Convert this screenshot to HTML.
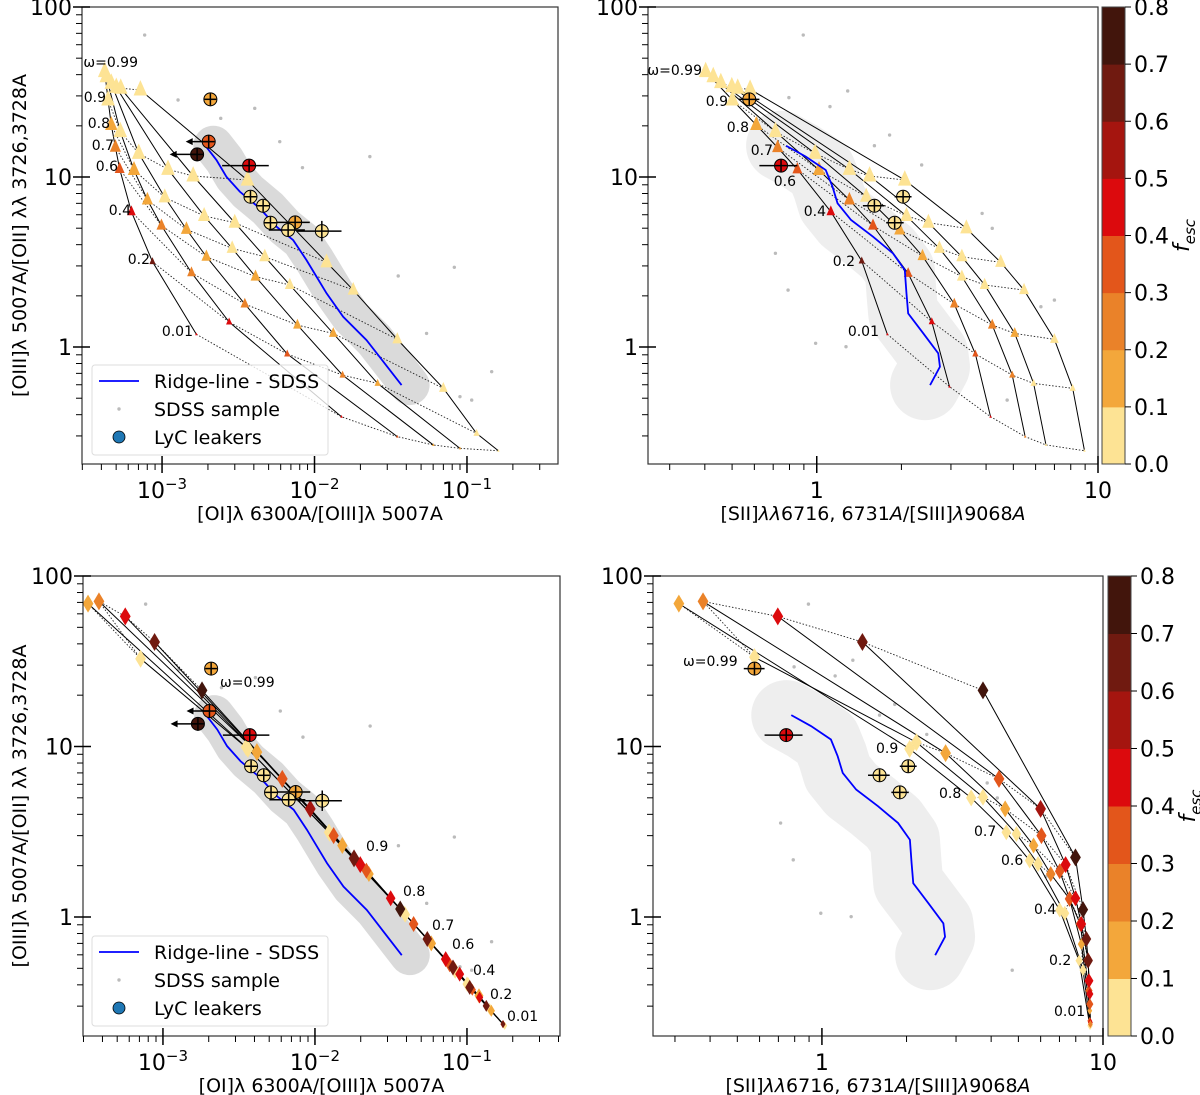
<!DOCTYPE html>
<html><head><meta charset="utf-8"><style>
html,body{margin:0;padding:0;background:#fff;}
svg{display:block;font-family:"DejaVu Sans","Liberation Sans",sans-serif;}
</style></head><body>
<svg id="fig" width="1200" height="1095" viewBox="0 0 1200 1095" xmlns="http://www.w3.org/2000/svg"></svg>
<script>
// ---------- DATA (log10 values) ----------
const omegaLabels = ['ω=0.99','0.9','0.8','0.7','0.6','0.4','0.2','0.01'];
const tlLogX = [
 [-3.376,-3.354,-3.333,-3.306,-3.278,-3.201,-3.063,-2.775],
 [-3.365,-3.274,-3.184,-3.096,-3.004,-2.807,-2.560,-1.823],
 [-3.333,-3.153,-2.982,-2.840,-2.709,-2.457,-2.179,-1.457],
 [-3.300,-2.961,-2.724,-2.540,-2.387,-2.112,-1.816,-1.221],
 [-3.271,-2.796,-2.523,-2.326,-2.162,-1.877,-1.586,-1.046],
 [-3.142,-2.440,-1.921,-1.746,-1.457,-1.155,-0.937,-0.794]];
const tlLogY = [
 [1.620,1.453,1.306,1.175,1.047,0.796,0.502,0.075],
 [1.590,1.267,1.041,0.865,0.714,0.437,0.147,-0.410],
 [1.551,1.139,0.880,0.692,0.531,0.253,-0.041,-0.527],
 [1.527,1.045,0.771,0.580,0.414,0.129,-0.165,-0.576],
 [1.522,1.006,0.731,0.531,0.365,0.080,-0.214,-0.596],
 [1.512,0.982,0.498,0.335,0.045,-0.243,-0.508,-0.610]];
const tlFesc = [
 [0.05,0.05,0.15,0.25,0.35,0.45,0.65,0.45],
 [0.05,0.05,0.15,0.15,0.25,0.25,0.45,0.45],
 [0.05,0.05,0.05,0.15,0.15,0.25,0.35,0.35],
 [0.05,0.05,0.05,0.05,0.15,0.15,0.25,0.15],
 [0.05,0.05,0.05,0.05,0.05,0.15,0.15,0.15],
 [0.05,0.05,0.05,0.05,0.05,0.05,0.05,0.05]];
const trLogX = [
 [-0.395,-0.300,-0.215,-0.139,-0.069,0.050,0.160,0.251],
 [-0.368,-0.147,0.008,0.116,0.200,0.325,0.409,0.472],
 [-0.341,-0.006,0.176,0.295,0.376,0.489,0.564,0.618],
 [-0.302,0.116,0.319,0.436,0.516,0.624,0.695,0.741],
 [-0.281,0.188,0.397,0.516,0.597,0.704,0.771,0.815],
 [-0.237,0.313,0.532,0.654,0.737,0.845,0.910,0.952]];
const trLogY = [
 [1.620,1.453,1.306,1.173,1.045,0.796,0.506,0.075],
 [1.590,1.267,1.041,0.865,0.714,0.433,0.149,-0.233],
 [1.555,1.139,0.884,0.688,0.535,0.253,-0.041,-0.410],
 [1.531,1.045,0.771,0.580,0.414,0.129,-0.165,-0.527],
 [1.522,1.006,0.731,0.531,0.365,0.080,-0.214,-0.576],
 [1.516,0.982,0.698,0.498,0.335,0.045,-0.243,-0.610]];
const trFesc = [
 [0.05,0.05,0.15,0.25,0.35,0.45,0.65,0.45],
 [0.05,0.05,0.15,0.25,0.35,0.35,0.45,0.45],
 [0.05,0.05,0.05,0.15,0.15,0.25,0.35,0.45],
 [0.05,0.05,0.05,0.05,0.05,0.25,0.25,0.25],
 [0.05,0.05,0.05,0.05,0.05,0.15,0.05,0.05],
 [0.05,0.05,0.05,0.05,0.05,0.05,0.05,0.05]];
const blLogX = [
 [-3.493,-2.452,-1.908,-1.410,-1.081,-1.000,-0.851,-0.752],
 [-3.147,-2.441,-1.904,-1.406,-1.077,-0.993,-0.840,-0.752],
 [-3.421,-2.382,-1.820,-1.645,-1.235,-0.921,-0.840,-0.763],
 [-3.248,-2.215,-1.877,-1.662,-1.351,-1.114,-0.965,-0.763],
 [-3.055,-2.031,-1.702,-1.502,-1.140,-1.048,-0.917,-0.763],
 [-2.743,-1.743,-1.439,-1.261,-1.092,-0.982,-0.873,-0.763]];
const blLogY = [
 [1.838,0.996,0.497,0.018,-0.311,-0.393,-0.540,-0.638],
 [1.515,0.986,0.491,0.014,-0.315,-0.397,-0.550,-0.638],
 [1.851,0.967,0.419,0.252,-0.155,-0.462,-0.550,-0.628],
 [1.763,0.810,0.477,0.272,-0.041,-0.280,-0.427,-0.628],
 [1.613,0.634,0.307,0.110,-0.247,-0.335,-0.472,-0.628],
 [1.329,0.344,0.047,-0.129,-0.296,-0.413,-0.521,-0.628]];
const blFesc = [
 [0.15,0.05,0.05,0.05,0.05,0.05,0.05,0.05],
 [0.05,0.05,0.05,0.05,0.05,0.05,0.05,0.05],
 [0.25,0.15,0.15,0.15,0.15,0.15,0.15,0.15],
 [0.45,0.35,0.35,0.35,0.35,0.35,0.35,0.35],
 [0.65,0.55,0.45,0.45,0.45,0.45,0.45,0.45],
 [0.75,0.65,0.75,0.65,0.65,0.65,0.65,0.65]];
const brLogX = [
 [-0.509,0.312,0.531,0.656,0.739,0.846,0.915,0.953],
 [-0.240,0.336,0.573,0.692,0.769,0.864,0.929,0.955],
 [-0.423,0.440,0.652,0.753,0.814,0.881,0.923,0.953],
 [-0.157,0.630,0.781,0.846,0.881,0.919,0.950,0.953],
 [0.144,0.778,0.867,0.902,0.923,0.947,0.953,0.955],
 [0.573,0.902,0.929,0.941,0.947,0.950,0.953,0.955]];
const brLogY = [
 [1.838,0.986,0.699,0.497,0.331,0.041,-0.256,-0.638],
 [1.524,1.025,0.703,0.487,0.311,0.022,-0.311,-0.638],
 [1.851,0.961,0.634,0.419,0.252,0.106,-0.159,-0.550],
 [1.763,0.810,0.477,0.268,0.106,-0.041,-0.432,-0.609],
 [1.613,0.634,0.307,0.110,-0.041,-0.252,-0.452,-0.618],
 [1.329,0.350,0.043,-0.129,-0.256,-0.374,-0.511,-0.628]];
const brFesc = [
 [0.15,0.05,0.05,0.05,0.05,0.05,0.05,0.05],
 [0.05,0.05,0.05,0.05,0.05,0.05,0.05,0.05],
 [0.25,0.15,0.15,0.15,0.25,0.25,0.15,0.15],
 [0.45,0.35,0.35,0.35,0.35,0.35,0.35,0.35],
 [0.65,0.55,0.45,0.45,0.45,0.45,0.45,0.45],
 [0.75,0.75,0.75,0.65,0.65,0.45,0.35,0.25]];
const ridgeLeftX = [-2.716,-2.643,-2.578,-2.490,-2.359,-2.249,-2.140,-2.053,-1.987,-1.921,-1.812,-1.659,-1.429];
const ridgeLeftY = [1.184,1.100,1.002,0.914,0.816,0.708,0.629,0.512,0.414,0.316,0.178,0.041,-0.224];
const ridgeRightX = [-0.109,-0.039,0.032,0.056,0.074,0.122,0.200,0.271,0.313,0.319,0.325,0.379,0.432,0.438,0.403];
const ridgeRightY = [1.184,1.120,1.041,0.943,0.845,0.747,0.649,0.551,0.453,0.316,0.198,0.080,-0.037,-0.116,-0.224];
const sdssLeftX = [-3.114,-2.392,-2.615,-2.228,-1.637,-2.079,-1.083,-0.838,-0.969,-1.451,-2.895,-1.265,-1.046];
const sdssLeftY = [1.835,1.404,1.345,1.208,1.120,1.055,0.469,-0.145,-0.312,0.418,1.453,0.080,-0.292];
const sdssRightX = [-0.048,0.110,0.047,-0.099,0.205,0.259,0.373,0.588,0.624,0.845,0.797,-0.004,0.104,-0.147,-0.102,0.677];
const sdssRightY = [1.835,1.506,1.414,1.467,1.184,1.247,1.071,0.786,0.698,0.276,0.237,0.022,0.002,0.551,0.335,-0.312];
const leakLogY = [1.457,1.208,1.133,1.067,0.884,0.831,0.731,0.733,0.688,0.682];
const leakFesc = [0.15,0.32,0.75,0.45,0.05,0.05,0.05,0.15,0.05,0.08];
const leakOILogX = [-2.683,-2.694,-2.770,-2.429,-2.420,-2.337,-2.289,-2.127,-2.173,-1.952];
const leakOIErrLo = [-2.70,null,null,-2.606,-2.44,-2.357,-2.309,-2.249,-2.300,-2.114];
const leakOIErrHi = [-2.665,null,null,-2.300,-2.40,-2.317,-2.269,-2.031,-2.063,-1.823];
const leakOILimit = [null,-2.845,-2.950,null,null,null,null,null,null,null];
const leakYErr = [0.03,0.04,0.04,0.03,0.03,0.03,0.03,0.03,0.03,0.06];
const leakSIdx = [0,3,4,5,6];
const leakSLogX = [-0.240,-0.127,0.307,0.205,0.277];
const leakSErrLo = [-0.278,-0.204,0.277,0.164,0.247];
const leakSErrHi = [-0.204,-0.069,0.337,0.241,0.309];
const cbarTicks = [0,0.1,0.2,0.3,0.4,0.5,0.6,0.7,0.8];
const cbarColors = ['#fde394','#f3a73b','#ea8229','#e3561b','#dc0a0d','#a5150f','#701a10','#42150c'];

// ---------- DRAWING ----------
const NS='http://www.w3.org/2000/svg';
const svg=document.getElementById('fig');
function el(tag,attrs,parent){const e=document.createElementNS(NS,tag);for(const k in attrs)e.setAttribute(k,attrs[k]);(parent||svg).appendChild(e);return e;}
function col(f){let i=Math.floor(f*10);if(i<0)i=0;if(i>7)i=7;return cbarColors[i];}

function makePanel(p){
  const g=el('g',{});
  
  
  p.sx=v=>p.x0+(v-p.lx0)/(p.lx1-p.lx0)*(p.x1-p.x0);
  p.sy=v=>p.y0+(p.ly0-v)/(p.ly0-p.ly1)*(p.y1-p.y0);
  p.g=g;
  const cp=el('clipPath',{id:'clip-'+p.name},g);
  el('rect',{x:p.x0,y:p.y0,width:p.x1-p.x0,height:p.y1-p.y0},cp);
  p.pg=el('g',{'clip-path':'url(#clip-'+p.name+')'},g);
  return p;
}
function axes(p,xMajors,xLabelFn,xText,yText){
  const g=p.g;
  const fr=el('rect',{x:p.x0,y:p.y0,width:p.x1-p.x0,height:p.y1-p.y0,fill:'none',stroke:'#333','stroke-width':1.2},g);
  
  
  for(let d=-1;d<=2;d++){
    for(let k=1;k<10;k++){
      const v=d+Math.log10(k);
      if(v<p.ly1-1e-6||v>p.ly0+1e-6)continue;
      const y=p.sy(v);
      if(k===1){el('line',{x1:p.x0-9,x2:p.x0+8,y1:y,y2:y,stroke:'#000','stroke-width':1.5},g);
        const t=el('text',{x:p.x0-10,y:y+8,'text-anchor':'end','font-size':22,fill:'#000'},g);
        t.textContent=String(Math.round(Math.pow(10,d)));
        
        
      } else el('line',{x1:p.x0-6,x2:p.x0,y1:y,y2:y,stroke:'#000','stroke-width':1},g);
    }
  }
  for(let d=-4;d<=1;d++){
    for(let k=1;k<10;k++){
      const v=d+Math.log10(k);
      if(v<p.lx0-1e-6||v>p.lx1+1e-6)continue;
      const x=p.sx(v);
      if(k===1&&xMajors.includes(d)){el('line',{x1:x,x2:x,y1:p.y1-8,y2:p.y1+9,stroke:'#000','stroke-width':1.5},g);
        xLabelFn(g,x,p.y1+34,d);
      } else el('line',{x1:x,x2:x,y1:p.y1,y2:p.y1+6,stroke:'#000','stroke-width':1},g);
    }
  }
  const xl=el('text',{x:(p.x0+p.x1)/2,y:p.y1+56,'text-anchor':'middle','font-size':19,fill:'#000'},g);
  xl.innerHTML=xText;
  
  
  if(yText){
    const cy=(p.y0+p.y1)/2;
    const yl=el('text',{x:0,y:0,transform:'translate(26,'+cy+') rotate(-90)','text-anchor':'middle','font-size':19,fill:'#000'},g);
    yl.innerHTML=yText;
    
    
  }
}
function powLabel(g,x,y,d){
  const t=el('text',{x:x,y:y,'text-anchor':'middle','font-size':22,fill:'#000'},g);
  t.innerHTML='10<tspan dy="-9" font-size="15">−'+(-d)+'</tspan>';
  
  
}
function plainLabel(g,x,y,d){
  const t=el('text',{x:x,y:y,'text-anchor':'middle','font-size':22,fill:'#000'},g);
  t.textContent=String(Math.round(Math.pow(10,d)));
  
  
}
function cloud(p,rx,ry,w,op,dx){
  let d='';
  rx.forEach((v,i)=>{d+=(i?'L':'M')+(p.sx(v)+dx)+','+p.sy(ry[i]);});
  const c=el('path',{d:d,fill:'none',stroke:'#c2c2c2','stroke-width':w,'stroke-linecap':'round','stroke-linejoin':'round',opacity:op},p.pg);
  
  
}
function dots(p,xs,ys){
  xs.forEach((v,i)=>{
    const c=el('circle',{cx:p.sx(v),cy:p.sy(ys[i]),r:1.7,fill:'#bbbbbb'},p.pg);
    
    
  });
}
function ridge(p,rx,ry){
  let d='';
  rx.forEach((v,i)=>{d+=(i?'L':'M')+p.sx(v)+','+p.sy(ry[i]);});
  const r=el('path',{d:d,fill:'none',stroke:'#0000ff','stroke-width':1.8},p.pg);
  
  
}
function grid(p,LX,LY,F,shape,sizes){
  const nl=LX.length,nr=LX[0].length;
  for(let r=0;r<nr;r++){let d='';for(let l=0;l<nl;l++)d+=(l?'L':'M')+p.sx(LX[l][r])+','+p.sy(LY[l][r]);
    const dl=el('path',{d:d,fill:'none',stroke:'#222','stroke-width':0.9,'stroke-dasharray':'1.5,1.8'},p.pg);
    
    }
  for(let l=0;l<nl;l++){let d='';for(let r=0;r<nr;r++)d+=(r?'L':'M')+p.sx(LX[l][r])+','+p.sy(LY[l][r]);
    const sl=el('path',{d:d,fill:'none',stroke:'#000','stroke-width':1},p.pg);
    
    }
  for(let l=0;l<nl;l++)for(let r=0;r<nr;r++){
    const x=p.sx(LX[l][r]),y=p.sy(LY[l][r]),s=sizes[r];let pts;
    if(shape==='tri')pts=[[x,y-s*0.9],[x-s*0.62,y+s*0.5],[x+s*0.62,y+s*0.5]];
    else pts=[[x,y-s],[x-s*0.6,y],[x,y+s],[x+s*0.6,y]];
    const m=el('polygon',{points:pts.map(q=>q.join(',')).join(' '),fill:col(F[l][r])},p.pg);
    
    
  }
}
function leakers(p,xs,lo,hi,lim,idx){
  xs.forEach((v,i)=>{
    const j=idx?idx[i]:i;
    const x=p.sx(v),y=p.sy(leakLogY[j]);
    const g=el('g',{},p.pg);
    
    
    el('circle',{cx:x,cy:y,r:6.5,fill:col(leakFesc[j]),stroke:'#000','stroke-width':1},g);
    const xl=lo&&lo[i]!=null?p.sx(lo[i]):x-6, xh=hi&&hi[i]!=null?p.sx(hi[i]):x+6;
    el('line',{x1:Math.min(xl,x-6),x2:Math.max(xh,x+6),y1:y,y2:y,stroke:'#000','stroke-width':1.5},g);
    const ye=leakYErr[j];
    el('line',{x1:x,x2:x,y1:Math.min(p.sy(leakLogY[j]+ye),y-6),y2:Math.max(p.sy(leakLogY[j]-ye),y+6),stroke:'#000','stroke-width':1.5},g);
    if(lim&&lim[i]!=null){const xe=p.sx(lim[i]);
      el('line',{x1:x,x2:xe+4,y1:y,y2:y,stroke:'#000','stroke-width':1.5},g);
      el('polygon',{points:(xe)+','+y+' '+(xe+7)+','+(y-3.5)+' '+(xe+7)+','+(y+3.5),fill:'#000'},g);}
  });
}
function omegaText(g,pos,anchor){
  omegaLabels.forEach((s,i)=>{
    const t=el('text',{x:pos[i][0],y:pos[i][1],'text-anchor':anchor,'font-size':14,fill:'#000'},g);
    t.textContent=s;
    
    
  });
}
function legend(x,y){
  const g=el('g',{});
  
  
  el('rect',{x:x,y:y,width:236,height:90,rx:3,fill:'#fff','fill-opacity':0.8,stroke:'#ddd'},g);
  el('line',{x1:x+7,x2:x+47,y1:y+16,y2:y+16,stroke:'#0000ff','stroke-width':1.8},g);
  el('circle',{cx:x+27,cy:y+44,r:1.7,fill:'#bbb'},g);
  el('circle',{cx:x+27,cy:y+72,r:6,fill:'#1f77b4',stroke:'#000','stroke-width':0.8},g);
  [['Ridge-line - SDSS',22],['SDSS sample',50],['LyC leakers',78]].forEach(a=>{
    const t=el('text',{x:x+62,y:y+a[1]+1,'font-size':19,fill:'#000'},g);t.textContent=a[0];
    
    
  });
}
function colorbar(x0,x1,y0,y1){
  const g=el('g',{});
  
  
  const sy=v=>y1-(v/0.8)*(y1-y0);
  cbarColors.forEach((c,i)=>{el('rect',{x:x0,y:sy((i+1)*0.1),width:x1-x0,height:sy(i*0.1)-sy((i+1)*0.1)+0.5,fill:c},g);});
  el('rect',{x:x0,y:y0,width:x1-x0,height:y1-y0,fill:'none',stroke:'#444','stroke-width':1},g);
  cbarTicks.forEach(v=>{const y=sy(v);el('line',{x1:x1,x2:x1+6,y1:y,y2:y,stroke:'#000','stroke-width':1},g);
    const t=el('text',{x:x1+9,y:y+8,'font-size':22,fill:'#000'},g);t.textContent=v.toFixed(1);
    
    });
  const cy=(y0+y1)/2;
  const t=el('text',{x:0,y:0,transform:'translate('+(x1+64)+','+cy+') rotate(-90)','text-anchor':'middle','font-size':22,fill:'#000'},g);
  t.innerHTML='<tspan font-style="italic">f</tspan><tspan dy="6" font-size="15" font-style="italic">esc</tspan>';
  
  
}

const triSizes=[11,11,10,9,8,7,5,2];
const diaSizes=[9,9,8.5,8,8,7.5,6,4];
const yLab='[OIII]λ 5007A/[OII] λλ 3726,3728A';
const xOI='[OI]λ 6300A/[OIII]λ 5007A';
const xSII='[SII]<tspan font-style="italic">λλ</tspan>6716, 6731<tspan font-style="italic">A</tspan>/[SIII]<tspan font-style="italic">λ</tspan>9068<tspan font-style="italic">A</tspan>';

const TL=makePanel({name:'panel-top-left',x0:82,x1:558,y0:7,y1:464,lx0:-3.525,lx1:-0.403,ly0:2,ly1:-0.688});
cloud(TL,ridgeLeftX,ridgeLeftY,40,0.6,8);dots(TL,sdssLeftX,sdssLeftY);
grid(TL,tlLogX,tlLogY,tlFesc,'tri',triSizes);ridge(TL,ridgeLeftX,ridgeLeftY);
leakers(TL,leakOILogX,leakOIErrLo,leakOIErrHi,leakOILimit,null);
omegaText(TL.g,[[138,67],[106,102],[110,128],[114,150],[118,171],[131,215],[150,264],[193,336]],'end');
axes(TL,[-3,-2,-1],powLabel,xOI,yLab);

const TR=makePanel({name:'panel-top-right',x0:648,x1:1098,y0:7,y1:464,lx0:-0.6,lx1:1.0,ly0:2,ly1:-0.688});
cloud(TR,ridgeRightX,ridgeRightY,70,0.28,-5);dots(TR,sdssRightX,sdssRightY);
grid(TR,trLogX,trLogY,trFesc,'tri',triSizes);ridge(TR,ridgeRightX,ridgeRightY);
leakers(TR,leakSLogX,leakSErrLo,leakSErrHi,null,leakSIdx);
omegaText(TR.g,[[702,75],[728,106],[749,132],[773,155],[796,186],[826,216],[855,266],[879,336]],'end');
axes(TR,[0,1],plainLabel,xSII,null);

const BL=makePanel({name:'panel-bottom-left',x0:83,x1:560,y0:576,y1:1036,lx0:-3.526,lx1:-0.388,ly0:2,ly1:-0.698});
cloud(BL,ridgeLeftX,ridgeLeftY,40,0.6,8);dots(BL,sdssLeftX,sdssLeftY);
grid(BL,blLogX,blLogY,blFesc,'dia',diaSizes);ridge(BL,ridgeLeftX,ridgeLeftY);
leakers(BL,leakOILogX,leakOIErrLo,leakOIErrHi,leakOILimit,null);
omegaText(BL.g,[[220,687],[366,851],[403,896],[432,930],[452,949],[473,975],[490,999],[507,1021]],'start');
axes(BL,[-3,-2,-1],powLabel,xOI,yLab);

const BR=makePanel({name:'panel-bottom-right',x0:653,x1:1103,y0:576,y1:1036,lx0:-0.601,lx1:1.0,ly0:2,ly1:-0.698});
cloud(BR,ridgeRightX,ridgeRightY,70,0.28,-5);dots(BR,sdssRightX,sdssRightY);
grid(BR,brLogX,brLogY,brFesc,'dia',diaSizes);ridge(BR,ridgeRightX,ridgeRightY);
leakers(BR,leakSLogX,leakSErrLo,leakSErrHi,null,leakSIdx);
omegaText(BR.g,[[683,666],[876,753],[939,798],[974,836],[1001,865],[1034,914],[1049,965],[1054,1016]],'start');
axes(BR,[0,1],plainLabel,xSII,null);

legend(92,365);
legend(92,936);
colorbar(1102,1125,7,464);
colorbar(1108,1131,576,1036);
</script>
</body></html>
